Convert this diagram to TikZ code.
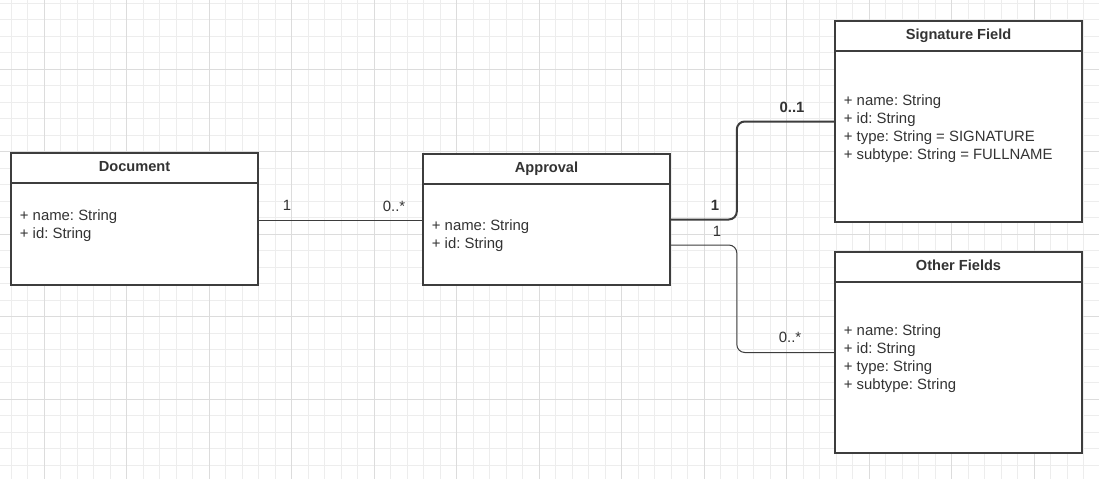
\documentclass[tikz,border=0pt]{standalone}
\usepackage{fontspec}
\setmainfont{Liberation Sans}
\usetikzlibrary{calc}

\definecolor{inkgray}{HTML}{333333}
\definecolor{boxgray}{HTML}{3D3D3D}
\definecolor{minorgray}{HTML}{EDEDED}
\definecolor{majorgray}{HTML}{DCDCDC}

\tikzset{
    umlbox/.style={rectangle, draw=boxgray, line width=1.6pt, fill=white, inner sep=0pt, minimum width=247pt},
    headline/.style={draw=boxgray, line width=1.6pt},
    classname/.style={anchor=base, inner sep=0pt, text=inkgray, font=\fontsize{14.6}{18}\selectfont\bfseries},
    attrs/.style={anchor=base west, inner sep=0pt, align=left, text=inkgray, font=\fontsize{14.9}{18}\selectfont\frenchspacing},
    assoc/.style={draw=boxgray, line width=1pt, rounded corners=8pt},
    assocbold/.style={draw=boxgray, line width=2pt, rounded corners=8pt},
    mult/.style={anchor=base, inner sep=0pt, text=inkgray, font=\fontsize{14.9}{18}\selectfont},
    multbold/.style={mult, font=\fontsize{14.9}{18}\selectfont\bfseries}
}

\begin{document}
\begin{tikzpicture}[x=1pt, y=-1pt]
    \useasboundingbox[fill=white] (0,0) rectangle (1099,479);

    % Grid
    \foreach \gx in {11.3,27.8,...,1099} \draw[minorgray, line width=0.8pt] (\gx,0) -- (\gx,479);
    \foreach \gy in {3.3,19.8,...,479} \draw[minorgray, line width=0.8pt] (0,\gy) -- (1099,\gy);
    \foreach \gx in {44.3,126.8,...,1099} \draw[majorgray, line width=0.8pt] (\gx,0) -- (\gx,479);
    \foreach \gy in {69.3,151.8,...,479} \draw[majorgray, line width=0.8pt] (0,\gy) -- (1099,\gy);

    % Draw classes
    \node[umlbox, minimum height=132pt] (doc) at (134.5,219) {};
    \node[umlbox, minimum height=131pt] (appr) at (546.5,219.5) {};
    \node[umlbox, minimum height=201pt] (sig) at (958.5,121.5) {};
    \node[umlbox, minimum height=201pt] (oth) at (958.5,352.5) {};

    \draw[headline] ([yshift=-31pt]doc.north west) -- ([yshift=-31pt]doc.north east);
    \draw[headline] ([yshift=-31pt]appr.north west) -- ([yshift=-31pt]appr.north east);
    \draw[headline] ([yshift=-31pt]sig.north west) -- ([yshift=-31pt]sig.north east);
    \draw[headline] ([yshift=-31pt]oth.north west) -- ([yshift=-31pt]oth.north east);

    % Class names
    \node[classname] (doctitle) at ([yshift=-19.5pt]doc.north) {Document};
    \node[classname] (apprtitle) at ([yshift=-19.5pt]appr.north) {Approval};
    \node[classname] (sigtitle) at ([yshift=-19.5pt]sig.north) {Signature Field};
    \node[classname] (othtitle) at ([yshift=-19.5pt]oth.north) {Other Fields};

    % Attributes (base anchor sits on the last line)
    \node[attrs] (docattr) at ($(doc.north west)+(9.5,86)$) {+ name: String\\+ id: String};
    \node[attrs] (apprattr) at ($(appr.north west)+(9.5,95)$) {+ name: String\\+ id: String};
    \node[attrs] (sigattr) at ($(sig.north west)+(9.5,139)$)
        {+ name: String\\+ id: String\\+ type: String = SIGNATURE\\+ subtype: String = FULLNAME};
    \node[attrs] (othattr) at ($(oth.north west)+(9.5,138)$)
        {+ name: String\\+ id: String\\+ type: String\\+ subtype: String};

    % Draw connections
    \draw[assoc] (doc.east |- 0,220.5) -- (appr.west |- 0,220.5);
    \draw[assocbold] (appr.east) -- ++(66,0) |- (sig.west);
    \draw[assoc] ([yshift=-25.5pt]appr.east) -- ++(66,0) |- (oth.west);

    % Multiplicities
    \node[mult] (m1) at (287,210.5) {1};
    \node[mult] (m2) at (394,211) {0..*};
    \node[multbold] (m3) at (715,210.5) {1};
    \node[multbold] (m4) at (792,112.5) {0..1};
    \node[mult] (m5) at (717,236.5) {1};
    \node[mult] (m6) at (790,342.5) {0..*};
\end{tikzpicture}
\end{document}
